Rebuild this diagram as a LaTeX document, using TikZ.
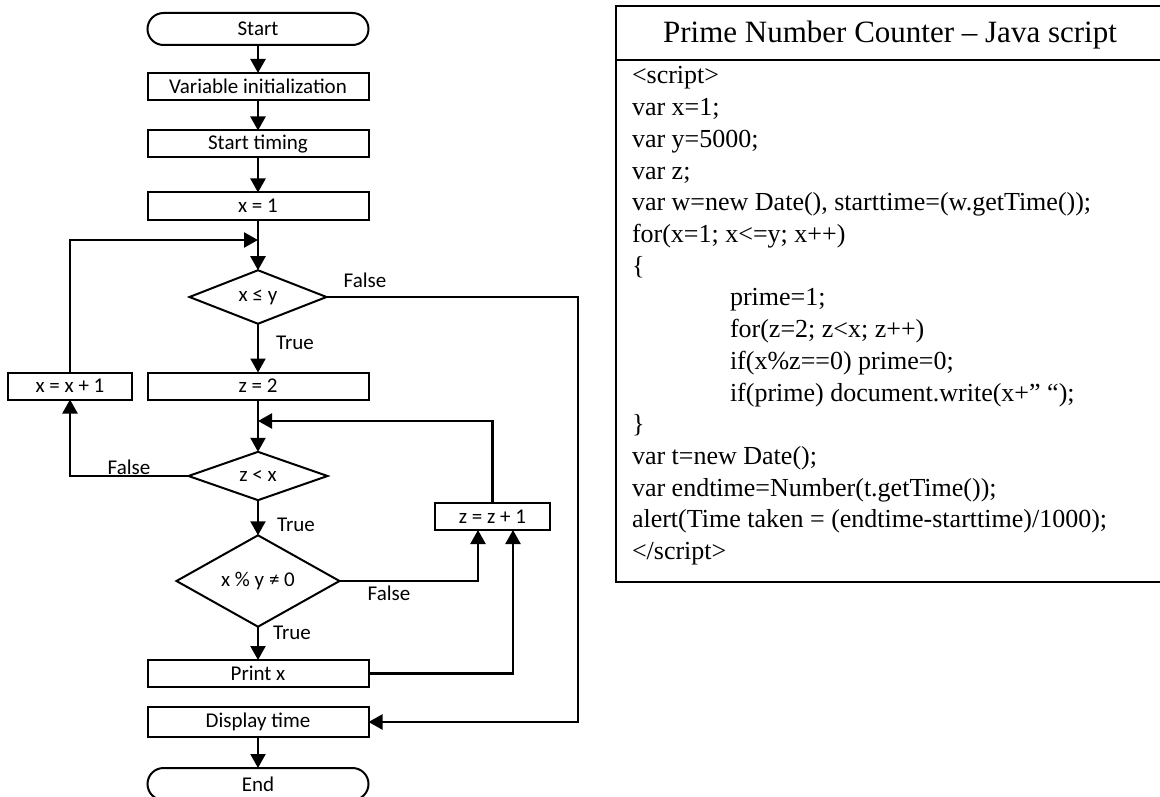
\documentclass[tikz,border=0pt]{standalone}
\usepackage{fontspec}
\setmainfont{Liberation Serif}
\newfontfamily\flowfont{Carlito}
\usetikzlibrary{arrows.meta,shapes.geometric,shapes.misc,calc}
\begin{document}
\begin{tikzpicture}[x=1pt,y=-1pt,
  every node/.style={inner sep=0pt,outer sep=0pt},
  flowtxt/.style={font=\flowfont\fontsize{21}{24}\selectfont},
  proc/.style={draw,line width=2pt,minimum height=27pt,flowtxt},
  term/.style={draw,line width=2pt,rounded rectangle,minimum height=32pt,minimum width=221pt,flowtxt},
  dec/.style={draw,line width=2pt,diamond,flowtxt},
  conn/.style={line width=2.2pt,-{Triangle[length=14pt,width=15pt]}},
  lbl/.style={flowtxt},
  codeline/.style={anchor=base west,font=\fontsize{26}{30}\selectfont},
  frame/.style={draw,line width=1.8pt,anchor=north west}
]
\useasboundingbox (0,0) rectangle (1160,797);

% ---- flowchart nodes ----
\node[term] (start) at (258,29) {Start};
\node[proc,minimum width=221pt] (init) at (258,86.5) {Variable initialization};
\node[proc,minimum width=221pt] (timing) at (258,144) {Start timing};
\node[proc,minimum width=221pt] (x1) at (258,206) {x = 1};
\coordinate (j1) at (258,240);
\node[dec,minimum width=137pt,minimum height=50pt] (d1) at (258,297) {x ≤ y};
\node[proc,minimum width=221pt] (z2) at (258,386) {z = 2};
\node[proc,minimum width=124pt] (xinc) at (70,386) {x = x + 1};
\coordinate (j2) at (258,421);
\node[dec,minimum width=139pt,minimum height=48pt] (d2) at (258,476) {z < x};
\node[proc,minimum width=115pt] (zinc) at (492.5,516.5) {z = z + 1};
\node[dec,minimum width=163pt,minimum height=56pt] (d3) at (258,581) {x \% y ≠ 0};
\node[proc,minimum width=221pt] (print) at (258,673.5) {Print x};
\node[proc,minimum width=221pt,minimum height=30pt] (disp) at (258,722) {Display time};
\node[term] (end) at (258,784) {End};
\coordinate (r1) at (578,297);

% ---- labels ----
\node[lbl] (t1) at (295,343) {True};
\node[lbl] (t2) at (296,525) {True};
\node[lbl] (t3) at (292,633) {True};
\node[lbl] (f1) at (365,280) {False};
\node[lbl] (f2) at (129,467) {False};
\node[lbl] (f3) at (389,593) {False};

% ---- connectors ----
\draw[conn] (start) -- (init);
\draw[conn] (init) -- (timing);
\draw[conn] (timing) -- (x1);
\draw[conn] (x1) -- (d1);
\draw[conn] (xinc.north) |- (j1);
\draw[conn] (d1) -- (z2);
\draw[conn] (d1.east) -- (r1) |- (disp.east);
\draw[conn] (z2) -- (d2);
\draw[conn] (zinc.north) |- (j2);
\draw[conn] (d2.west) -| (xinc.south);
\draw[conn] (d2) -- (d3);
\draw[conn] (d3.east) -| ($(zinc.south)+(-14.5,0)$);
\draw[conn] (d3) -- (print);
\draw[conn] (print.east) -| ($(zinc.south)+(20.5,0)$);
\draw[conn] (disp) -- (end);

% ---- code box ----
\node[frame,minimum width=546pt,minimum height=54pt] (titlebox) at (616,6) {};
\node[frame,minimum width=546pt,minimum height=522pt] (codebox) at (616,60) {};
\node[anchor=base,font=\fontsize{31}{35}\selectfont] (title) at (890,43) {Prime Number Counter -- Java script};
\node[codeline] (c0) at (632,84) {<script>};
\node[codeline] (c1) at (632,115.7) {var x=1;};
\node[codeline] (c2) at (632,147.4) {var y=5000;};
\node[codeline] (c3) at (632,179.1) {var z;};
\node[codeline] (c4) at (632,210.8) {var w=new Date(), starttime=(w.getTime());};
\node[codeline] (c5) at (632,242.5) {for(x=1; x<=y; x++)};
\node[codeline] (c6) at (632,274.2) {\{};
\node[codeline] (c7) at (730,305.9) {prime=1;};
\node[codeline] (c8) at (730,337.6) {for(z=2; z<x; z++)};
\node[codeline] (c9) at (730,369.3) {if(x\%z==0) prime=0;};
\node[codeline] (c10) at (730,401) {if(prime) document.write(x+” “);};
\node[codeline] (c11) at (632,432.7) {\}};
\node[codeline] (c12) at (632,464.4) {var t=new Date();};
\node[codeline] (c13) at (632,496.1) {var endtime=Number(t.getTime());};
\node[codeline] (c14) at (632,527.8) {alert(Time taken = (endtime-starttime)/1000);};
\node[codeline] (c15) at (632,559.5) {</script>};
\end{tikzpicture}
\end{document}
